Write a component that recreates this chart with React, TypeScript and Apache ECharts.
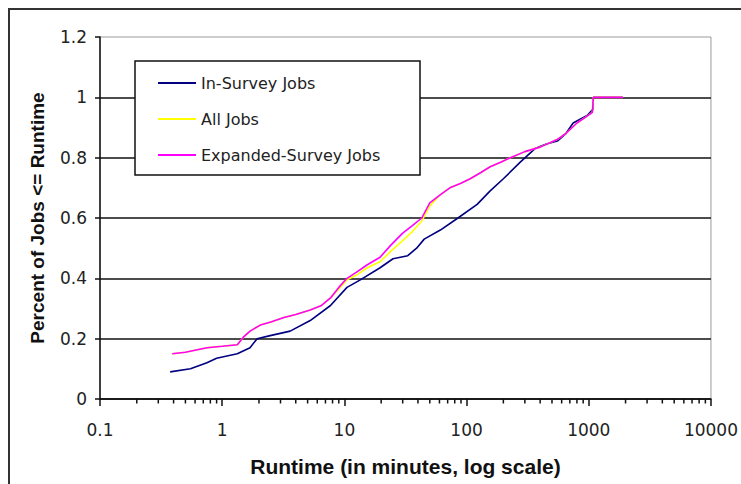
import React, { useEffect, useRef } from "react";
import * as echarts from "echarts";

// ---- Data ----
const seriesNames = ["In-Survey Jobs", "All Jobs", "Expanded-Survey Jobs"];

const inSurveyX = [0.375, 0.55, 0.75, 0.9, 1.33, 1.69, 1.93, 2.47, 3.6, 5.25, 7.7, 10.5, 13.5, 19.6, 25, 33, 39, 45, 61, 85, 122, 156, 200, 275, 363, 450, 553, 650, 745, 970, 1080, 1090, 1900];
const inSurveyY = [0.09, 0.1, 0.12, 0.135, 0.15, 0.17, 0.2, 0.21, 0.225, 0.26, 0.31, 0.37, 0.395, 0.435, 0.465, 0.475, 0.5, 0.53, 0.56, 0.6, 0.645, 0.69, 0.73, 0.785, 0.83, 0.845, 0.855, 0.88, 0.915, 0.94, 0.96, 1.0, 1.0];

const allJobsX = [0.39, 0.5, 0.75, 1.0, 1.33, 1.49, 1.69, 2.05, 2.5, 3.2, 4.0, 5.25, 6.5, 7.7, 9.0, 10.5, 12.5, 15.4, 19.6, 24, 30, 36, 43, 50, 60, 73, 90, 107, 130, 156, 190, 228, 300, 400, 550, 650, 800, 950, 1070, 1090, 1900];
const allJobsY = [0.15, 0.155, 0.17, 0.175, 0.18, 0.205, 0.225, 0.245, 0.255, 0.27, 0.28, 0.295, 0.31, 0.335, 0.365, 0.395, 0.41, 0.435, 0.455, 0.49, 0.525, 0.555, 0.59, 0.64, 0.675, 0.7, 0.715, 0.73, 0.75, 0.77, 0.785, 0.8, 0.82, 0.835, 0.86, 0.88, 0.915, 0.935, 0.95, 1.0, 1.0];

const expandedX = [0.39, 0.5, 0.75, 1.0, 1.33, 1.49, 1.69, 2.05, 2.5, 3.2, 4.0, 5.25, 6.5, 7.7, 9.0, 10.5, 12.5, 15.4, 19.6, 24, 30, 36, 43, 50, 60, 73, 90, 107, 130, 156, 190, 228, 300, 400, 550, 650, 800, 950, 1070, 1090, 1900];
const expandedY = [0.15, 0.155, 0.17, 0.175, 0.18, 0.205, 0.225, 0.245, 0.255, 0.27, 0.28, 0.295, 0.31, 0.335, 0.37, 0.4, 0.42, 0.445, 0.47, 0.51, 0.55, 0.575, 0.6, 0.65, 0.675, 0.7, 0.715, 0.73, 0.75, 0.77, 0.785, 0.8, 0.82, 0.835, 0.86, 0.88, 0.915, 0.935, 0.95, 1.0, 1.0];

// log-axis minor tick positions (decades x multipliers)
const minorDecades = [0.1, 1, 10, 100, 1000];
const minorMultipliers = [2, 3, 4, 5, 6, 7, 8, 9];

const FONT = "'Liberation Sans', Arial, sans-serif";
const WIDE = "'DejaVu Sans', Verdana, sans-serif";

function zip(xs: number[], ys: number[]) {
  return xs.map((x, i) => [x, ys[i]]);
}

export default function App() {
  const ref = useRef<HTMLDivElement>(null);

  useEffect(() => {
    if (!ref.current) return;
    const chart = echarts.init(ref.current, undefined, { renderer: "svg" });

    const minorTicks: number[][] = [];
    minorDecades.forEach((d) =>
      minorMultipliers.forEach((m) => minorTicks.push([d * m, 0]))
    );

    const lineSeries = (name: string, data: number[][], color: string) => ({
      name,
      type: "line",
      data,
      symbol: "none",
      showSymbol: false,
      lineStyle: { color, width: 1.6 },
      itemStyle: { color },
      z: 3,
    });

    chart.setOption({
      animation: false,
      backgroundColor: "#ffffff",
      textStyle: { fontFamily: FONT },
      grid: {
        left: 100,
        right: 30,
        top: 37,
        bottom: 85,
        show: true,
        borderColor: "#9a9a9a",
        borderWidth: 1,
        backgroundColor: "#ffffff",
      },
      legend: {
        orient: "vertical",
        left: 153,
        top: 70,
        icon: "rect",
        itemWidth: 38,
        itemHeight: 2,
        itemGap: 20,
        data: seriesNames,
        textStyle: { fontFamily: WIDE, fontSize: 16, lineHeight: 16, color: "#222" },
        z: 20,
      },
      xAxis: {
        type: "log",
        logBase: 10,
        min: 0.1,
        max: 10000,
        name: "Runtime (in minutes, log scale)",
        nameLocation: "middle",
        nameGap: 57,
        nameTextStyle: { fontFamily: FONT, fontSize: 21, fontWeight: "bold", color: "#111" },
        axisLine: { show: true, onZero: false, lineStyle: { color: "#111", width: 1.5 } },
        axisTick: { show: true, inside: false, length: 7, lineStyle: { color: "#111", width: 1.5 } },
        axisLabel: {
          fontFamily: WIDE,
          fontSize: 17,
          color: "#222",
          margin: 22,
          formatter: (v: number) => String(v),
        },
        splitLine: { show: false },
        minorTick: { show: false },
      },
      yAxis: {
        type: "value",
        min: 0,
        max: 1.2,
        interval: 0.2,
        name: "Percent of Jobs <= Runtime",
        nameLocation: "middle",
        nameGap: 53,
        nameTextStyle: { fontFamily: FONT, fontSize: 19, fontWeight: "bold", color: "#111" },
        axisLine: { show: true, lineStyle: { color: "#111", width: 1.5 } },
        axisTick: { show: true, inside: false, length: 5, lineStyle: { color: "#111", width: 1.5 } },
        axisLabel: { fontFamily: WIDE, fontSize: 17, color: "#222", margin: 13 },
        splitLine: {
          show: true,
          showMaxLine: false,
          lineStyle: { color: "#111", width: 1.5 },
        },
      },
      graphic: [
        {
          type: "rect",
          shape: { x: 9, y: 9, width: 780, height: 520 },
          style: { fill: "none", stroke: "#333", lineWidth: 2 },
          silent: true,
          z: 1,
        },
        {
          type: "rect",
          shape: { x: 135, y: 61, width: 285, height: 114 },
          style: { fill: "#ffffff", stroke: "#111", lineWidth: 1.5 },
          silent: true,
          z: 15,
        },
      ],
      series: [
        lineSeries(seriesNames[0], zip(inSurveyX, inSurveyY), "#000080"),
        lineSeries(seriesNames[1], zip(allJobsX, allJobsY), "#ffff00"),
        lineSeries(seriesNames[2], zip(expandedX, expandedY), "#ff00ff"),
        {
          name: "minorTicks",
          type: "custom",
          data: minorTicks,
          clip: false,
          silent: true,
          z: 5,
          renderItem: (_params: any, api: any) => {
            const p = api.coord([api.value(0), 0]);
            return {
              type: "line",
              shape: { x1: p[0], y1: p[1], x2: p[0], y2: p[1] + 4.5 },
              style: { stroke: "#111", lineWidth: 1.5 },
            };
          },
        },
      ],
    });

    return () => chart.dispose();
  }, []);

  return (
    <div
      ref={ref}
      style={{ position: "absolute", left: 0, top: 0, width: 741, height: 484, background: "#fff" }}
    />
  );
}
